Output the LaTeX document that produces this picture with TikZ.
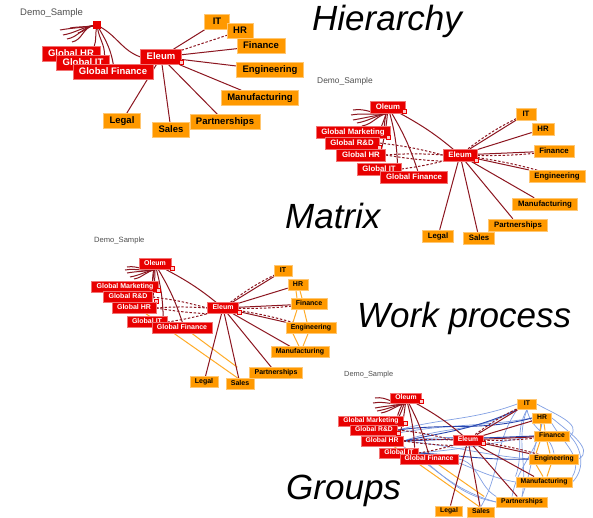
\documentclass[tikz,border=0pt]{standalone}
\usepackage{fontspec}
\setmainfont{Liberation Sans}
\usetikzlibrary{backgrounds}
\definecolor{nred}{RGB}{232,0,0}
\definecolor{norange}{RGB}{255,153,0}
\definecolor{ered}{RGB}{140,22,32}
\definecolor{lblue}{RGB}{130,160,228}
\definecolor{dblue}{RGB}{40,70,175}
\definecolor{oline}{RGB}{255,172,40}
\definecolor{sqfill}{RGB}{250,205,205}
\definecolor{demogray}{RGB}{80,80,80}
\tikzset{
 boxsz/.style={},
 rb/.style={rectangle, fill=nred, draw=nred!55!white, line width=0.5pt, text=white, inner ysep=0pt, boxsz},
 ob/.style={rb, fill=norange, draw=norange!55!white, text=black},
 sq/.style={rectangle, fill=sqfill, draw=nred, line width=0.4pt, minimum size=4.5pt, inner sep=0pt},
 e/.style={draw=ered, line width=1pt},
 ed/.style={e, dash pattern=on 2.4pt off 1.8pt},
 lb/.style={draw=lblue, line width=0.7pt},
 db/.style={draw=dblue, line width=0.9pt},
 ol/.style={draw=oline, line width=1pt},
 demo/.style={anchor=west, text=demogray, inner sep=0pt},
 big/.style={anchor=base west, inner sep=0pt, font=\itshape\fontsize{35pt}{35pt}\selectfont},
}
% common red links for panels 2-4
\newcommand\redlinks{%
 \foreach \i in {1,...,5} \draw[e] (O.south) to[out=190,in=10] (f\i);
 \draw[e] (O) to[bend left=6] (E);
 \draw[e] (O) to[bend right=5] ([xshift=-6pt]GM.north east);
 \draw[e] (O) to[bend left=5] ([xshift=-3pt]GRD.north east);
 \draw[e] (O) to[bend left=4] ([xshift=-4pt]GHR.north east);
 \draw[e] (O) to[bend left=6] ([xshift=-4pt]GIT.north east);
 \draw[e] (O) to[bend left=6] ([xshift=-30pt]GF.north east);
 \draw[ed] (GRD.east) to[bend left=4] (E.west);
 \draw[ed] (GHR.east) to[bend left=4] (E.west);
 \draw[ed] (GHR.east) to[bend right=3] (E.south west);
 \draw[ed] (GIT.east) to[bend right=3] (E.south west);
 \foreach \t in {IT,HR,Fin,Eng,Man,Par,Sal,Leg} \draw[e] (E) -- (\t);
 \draw[ed] (E) to[bend left=6] (IT);
 \draw[ed] (E) to[bend right=4] (Fin);
 \draw[ed] (E) to[bend left=4] (Eng);
}
\newcommand\olens{%
 \draw[ol] ([xshift=-2pt]HR.south) -- ([xshift=-12pt]Fin.north);
 \draw[ol] ([xshift=2pt]HR.south) -- ([xshift=-7pt]Fin.north);
 \draw[ol] ([xshift=-12pt]Fin.south) -- ([xshift=-18pt]Eng.north);
 \draw[ol] ([xshift=-5pt]Fin.south) -- ([xshift=-4pt]Eng.north);
 \draw[ol] ([xshift=-18pt]Eng.south) -- ([xshift=-1pt]Man.north);
 \draw[ol] ([xshift=-3pt]Eng.south) -- ([xshift=3pt]Man.north);
 \draw[ol] ([xshift=12pt]GHR.south) -- ([xshift=-2pt]Sal.north);
 \draw[ol] ([xshift=-20pt]GF.south east) -- ([xshift=-12pt]Par.north west);
}
\begin{document}
\begin{tikzpicture}[x=1pt,y=-1pt]
\begin{pgfonlayer}{background}
\fill[white] (0,0) rectangle (593,517);
\end{pgfonlayer}
\useasboundingbox (0,0) rectangle (593,517);

% ---------- titles
\node[big] (tH) at (312,30) {Hierarchy};
\node[big] (tM) at (285,228) {Matrix};
\node[big] (tW) at (357,327) {Work process};
\node[big] (tG) at (286,499) {Groups};

% ================= Panel 1: Hierarchy
\begin{scope}[name prefix=a-, boxsz/.style={font=\bfseries\fontsize{9.5pt}{10pt}\selectfont, inner xsep=6pt, minimum height=15pt, minimum width=25pt, text height=6.9pt, text depth=2pt}]
\node[demo, font=\fontsize{9.5pt}{10pt}\selectfont] (demo) at (20,13) {Demo\_Sample};
\node[sq, fill=nred, minimum size=7pt] (r) at (97,25) {};
\node[rb] (GHR) at (71,54) {Global HR};
\node[rb] (GIT) at (83,63) {Global IT};
\node[rb] (GF) at (113,72) {Global Finance};
\node[rb] (E) at (161,57) {Eleum};
\node[sq] (Es) at (181,62) {};
\node[ob] (IT) at (217,22) {IT};
\node[ob] (HR) at (240,31) {HR};
\node[ob] (Fin) at (261,46) {Finance};
\node[ob] (Eng) at (270,70) {Engineering};
\node[ob] (Man) at (260,98) {Manufacturing};
\node[ob] (Par) at (225,122) {Partnerships};
\node[ob] (Sal) at (171,130) {Sales};
\node[ob] (Leg) at (122,121) {Legal};
\coordinate (f1) at (60,30); \coordinate (f2) at (63,35); \coordinate (f3) at (67,39);
\coordinate (f4) at (72,42); \coordinate (f5) at (70,28); \coordinate (f6) at (78,33);
\begin{pgfonlayer}{background}
 \foreach \i in {1,...,6} \draw[e] (r) to[out=190,in=10] (f\i);
 \draw[e] (r) to[out=-100,in=70] ([xshift=-6pt]GHR.north east);
 \draw[e] (r) to[out=-80,in=90] ([xshift=-5pt]GIT.north east);
 \draw[e] (r) to[out=-60,in=100] ([xshift=-40pt]GF.north east);
 \draw[e] (r) to[out=-30,in=160] (E.west);
 \foreach \t in {IT,Fin,Eng,Man,Par,Sal,Leg} \draw[e] (E) -- (\t);
 \draw[ed] (E) -- (HR);
\end{pgfonlayer}
\end{scope}

% ================= Panel 2: Matrix
\begin{scope}[name prefix=b-, boxsz/.style={font=\bfseries\fontsize{7.8pt}{8pt}\selectfont, inner xsep=5.5pt, minimum height=12pt, minimum width=20pt, text height=5.7pt, text depth=1.6pt}]
\node[demo, font=\fontsize{8.4pt}{9pt}\selectfont] (demo) at (317,81) {Demo\_Sample};
\node[rb] (O) at (388,107) {Oleum};
\node[sq] (Os) at (404,111) {};
\node[rb] (GM) at (353,132) {Global Marketing};
\node[sq] (GMs) at (388,137) {};
\node[rb] (GRD) at (352,143) {Global R\&D};
\node[sq] (GRDs) at (379,147) {};
\node[rb] (GHR) at (361,155) {Global HR};
\node[rb] (GIT) at (379,169) {Global IT};
\node[rb] (GF) at (414,177) {Global Finance};
\node[rb] (E) at (460,155) {Eleum};
\node[sq] (Es) at (476,160) {};
\node[ob] (IT) at (526,114) {IT};
\node[ob] (HR) at (543,129) {HR};
\node[ob] (Fin) at (554,151) {Finance};
\node[ob] (Eng) at (557,176) {Engineering};
\node[ob] (Man) at (545,204) {Manufacturing};
\node[ob] (Par) at (518,225) {Partnerships};
\node[ob] (Sal) at (479,238) {Sales};
\node[ob] (Leg) at (438,236) {Legal};
\coordinate (f1) at (353,110); \coordinate (f2) at (351,115); \coordinate (f3) at (353,120);
\coordinate (f4) at (357,123); \coordinate (f5) at (362,126);
\begin{pgfonlayer}{background}
 \redlinks
\end{pgfonlayer}
\end{scope}

% ================= Panel 3: Work process
\begin{scope}[name prefix=c-, boxsz/.style={font=\bfseries\fontsize{7pt}{7pt}\selectfont, inner xsep=5pt, minimum height=11pt, minimum width=18pt, text height=5.1pt, text depth=1.5pt}]
\node[demo, font=\fontsize{7.6pt}{8pt}\selectfont] (demo) at (94,241) {Demo\_Sample};
\node[rb] (O) at (155,264) {Oleum};
\node[sq] (Os) at (172,268) {};
\node[rb] (GM) at (125,287) {Global Marketing};
\node[sq] (GMs) at (158,290) {};
\node[rb] (GRD) at (128,297) {Global R\&D};
\node[sq] (GRDs) at (156,301) {};
\node[rb] (GHR) at (134,308) {Global HR};
\node[rb] (GIT) at (147,322) {Global IT};
\node[rb] (GF) at (182,328) {Global Finance};
\node[rb] (E) at (223,308) {Eleum};
\node[sq] (Es) at (239,312) {};
\node[ob] (IT) at (283,271) {IT};
\node[ob] (HR) at (298,285) {HR};
\node[ob] (Fin) at (309,304) {Finance};
\node[ob] (Eng) at (311,328) {Engineering};
\node[ob] (Man) at (300,352) {Manufacturing};
\node[ob] (Par) at (276,373) {Partnerships};
\node[ob] (Sal) at (240,384) {Sales};
\node[ob] (Leg) at (204,382) {Legal};
\coordinate (f1) at (127,267); \coordinate (f2) at (125,270); \coordinate (f3) at (127,273);
\coordinate (f4) at (130,277); \coordinate (f5) at (134,279);
\begin{pgfonlayer}{background}
 \olens
 \redlinks
\end{pgfonlayer}
\end{scope}

% ================= Panel 4: Groups
\begin{scope}[name prefix=d-, boxsz/.style={font=\bfseries\fontsize{6.8pt}{7pt}\selectfont, inner xsep=4.8pt, minimum height=10.5pt, minimum width=19pt, text height=5pt, text depth=1.4pt}]
\node[demo, font=\fontsize{7.4pt}{8pt}\selectfont] (demo) at (344,375) {Demo\_Sample};
\node[rb] (O) at (406,398) {Oleum};
\node[sq] (Os) at (421,401) {};
\node[rb] (GM) at (371,421) {Global Marketing};
\node[sq] (GMs) at (405,423) {};
\node[rb] (GRD) at (374,430) {Global R\&D};
\node[sq] (GRDs) at (398,433) {};
\node[rb] (GHR) at (382,441) {Global HR};
\node[rb] (GIT) at (399,453) {Global IT};
\node[rb] (GF) at (429,459) {Global Finance};
\node[rb] (E) at (468,440) {Eleum};
\node[sq] (Es) at (483,443) {};
\node[ob] (IT) at (527,404) {IT};
\node[ob] (HR) at (542,418) {HR};
\node[ob] (Fin) at (552,436) {Finance};
\node[ob] (Eng) at (554,459) {Engineering};
\node[ob] (Man) at (544,482) {Manufacturing};
\node[ob] (Par) at (522,502) {Partnerships};
\node[ob] (Sal) at (481,512) {Sales};
\node[ob] (Leg) at (449,511) {Legal};
\coordinate (f1) at (375,398); \coordinate (f2) at (373,403); \coordinate (f3) at (375,408);
\coordinate (f4) at (377,411); \coordinate (f5) at (381,413);
\begin{pgfonlayer}{background}
 % light blue group links
 \draw[lb] (GRD.east) to[out=15,in=200] (IT.west);
 \draw[lb] (GHR.east) to[out=20,in=210] (IT.south west);
 \draw[lb] (GRDs) to[out=10,in=190] (HR.west);
 \draw[lb] (GHR.east) to[out=8,in=185] (Fin.west);
 \draw[lb] (GIT.east) to[out=5,in=190] (Fin.west);
 \draw[lb] (GHR.east) to[out=-5,in=175] (Eng.west);
 \draw[lb] (GIT.east) to[out=-5,in=170] (Man.west);
 \draw[lb] (GF.east) to[out=-10,in=150] (Par.north west);
 \draw[lb] (GHR.south east) to[out=-35,in=165] (Par.west);
 \draw[lb] (GF.south) to[out=-40,in=170] (Par.west);
 \draw[lb] (IT.south) to[out=-110,in=80] (Par.north);
 \draw[lb] (IT.south) to[out=-120,in=70] (Man.north west);
 \draw[lb] (IT.south west) to[out=-125,in=60] (Sal.north);
 \draw[lb] (HR.south) to[out=-110,in=70] (Par.north);
 \draw[lb] (HR.south) to[out=-100,in=80] ([xshift=-10pt]Par.north);
 \draw[lb] (HR.south east) to[out=-60,in=60] (Man.north east);
 \draw[lb] (HR.east) to[out=-40,in=30] (Eng.east);
 \draw[lb] (Fin.east) to[out=-45,in=45] (Man.east);
 \draw[lb] (IT.east) to[out=-30,in=40] (Fin.east);
 \draw[lb] (IT.south) to[out=-80,in=100] (Eng.north);
 % dark blue links
 \draw[db] (GRD.east) to[out=8,in=195] (HR.west);
 \draw[db] (GHR.east) -- (Fin.west);
 \draw[db] (GIT.east) to[out=-3,in=182] (Eng.west);
 \draw[db] (GHR.east) to[out=12,in=205] (IT.south west);
 \olens
 \redlinks
\end{pgfonlayer}
\end{scope}
\end{tikzpicture}
\end{document}
